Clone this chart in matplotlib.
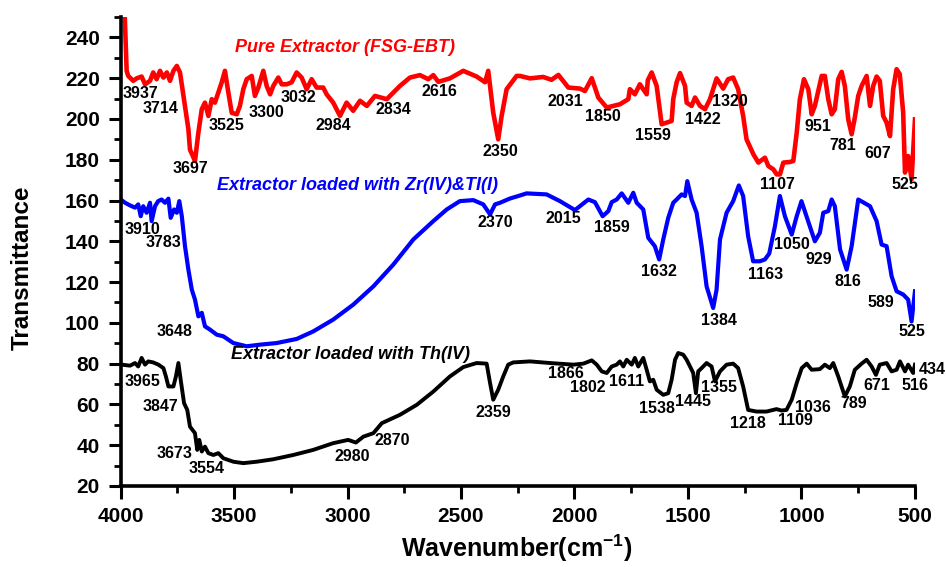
import numpy as np
import matplotlib.pyplot as plt
from matplotlib.ticker import MultipleLocator

plt.rcParams['font.family'] = ['Liberation Sans', 'DejaVu Sans']
plt.rcParams['font.weight'] = 'bold'
plt.rcParams['mathtext.fontset'] = 'custom'
plt.rcParams['mathtext.rm'] = 'Liberation Sans:bold'
plt.rcParams['mathtext.default'] = 'rm'

# espectro del extractor puro (rojo)
red_wn = [3985, 3973, 3966, 3944, 3929, 3907, 3892, 3870, 3856, 3841,
          3826, 3811, 3796, 3782, 3767, 3752, 3738, 3716, 3701, 3694,
          3672, 3657, 3642, 3628, 3613, 3598, 3584, 3569, 3554, 3540,
          3525, 3510, 3488, 3474, 3459, 3444, 3422, 3408, 3393, 3371,
          3356, 3341, 3327, 3305, 3290, 3268, 3246, 3224, 3202, 3180,
          3158, 3136, 3107, 3092, 3063, 3033, 3004, 2975, 2945, 2915,
          2879, 2827, 2769, 2725, 2681, 2644, 2622, 2600, 2549, 2490,
          2431, 2394, 2380, 2358, 2336, 2321, 2299, 2255, 2240, 2196,
          2138, 2101, 2071, 2027, 1976, 1954, 1924, 1895, 1858, 1800,
          1763, 1756, 1734, 1712, 1682, 1677, 1660, 1638, 1616, 1594,
          1572, 1565, 1550, 1535, 1513, 1506, 1484, 1469, 1447, 1425,
          1403, 1374, 1345, 1323, 1301, 1279, 1257, 1242, 1212, 1190,
          1161, 1146, 1124, 1109, 1095, 1080, 1051, 1036, 1021, 1007,
          989, 970, 955, 941, 911, 897, 882, 867, 853, 838,
          823, 809, 794, 779, 765, 750, 735, 713, 698, 684,
          669, 655, 640, 625, 610, 596, 581, 567, 552, 544,
          530, 515, 500]
red_t = [262, 223.6, 221.1, 218.7, 219.9, 220.8, 217, 218.7, 222.8, 219.5,
         223.6, 220.3, 222.8, 218.7, 223.6, 226, 222.8, 206.4, 195, 185,
         179.4, 193.3, 204.8, 208, 201.5, 209.7, 208, 213, 218, 223.6,
         213, 203, 202.3, 206.4, 214.6, 219.5, 221.1, 211.3, 215.4, 223.6,
         216.2, 212.1, 216.2, 220.3, 217, 217, 218, 222.8, 220.3, 214.6,
         219.5, 215.4, 215.4, 212.1, 208, 201.5, 208, 204, 208.9, 206.4,
         211.3, 209.7, 216.2, 220.3, 221.5, 219.5, 221.5, 218.2, 219.9, 223.6,
         220.8, 218, 223.6, 203.1, 190, 201.5, 214.6, 221.1, 221.1, 219.9,
         220.6, 219.2, 221.6, 215.4, 214.9, 213.7, 220, 210.5, 205.6, 207.2,
         209.7, 214.6, 212.1, 217, 212.1, 219, 222.8, 216.2, 197.4, 198.2,
         199, 209.7, 218, 222.5, 216.2, 208, 206.4, 210.5, 206.4, 204.8,
         209.7, 219.9, 214.9, 219.5, 220.3, 214.6, 201.5, 190, 182.7, 178.6,
         181, 176.9, 175.3, 172.8, 172.8, 178.6, 178.9, 179.4, 193.3, 209.7,
         219.5, 214.6, 202.3, 206.4, 221.1, 221.1, 209.7, 202.3, 204.8, 219.5,
         223.1, 216.2, 199.8, 192.5, 200.7, 211.3, 216.2, 221.1, 206.4, 216.2,
         220.8, 218.7, 201.5, 198.2, 191.6, 214.6, 224.4, 222, 203.1, 173.7,
         181.8, 170.4, 199.8]

# extractor cargado con Zr(IV) y Tl(I) (azul)
blue_wn = [3999, 3980, 3958, 3936, 3922, 3911, 3900, 3885, 3870, 3863,
           3848, 3834, 3819, 3804, 3789, 3779, 3764, 3752, 3741, 3730,
           3716, 3701, 3686, 3672, 3657, 3642, 3628, 3606, 3576, 3547,
           3503, 3444, 3386, 3312, 3224, 3151, 3063, 2975, 2886, 2798,
           2710, 2622, 2563, 2505, 2446, 2402, 2372, 2350, 2328, 2284,
           2248, 2211, 2123, 2064, 1998, 1939, 1910, 1876, 1851, 1836,
           1814, 1792, 1763, 1741, 1726, 1697, 1675, 1646, 1627, 1609,
           1587, 1565, 1550, 1528, 1513, 1503, 1484, 1462, 1440, 1418,
           1389, 1374, 1359, 1330, 1301, 1276, 1257, 1235, 1213, 1183,
           1161, 1142, 1117, 1095, 1073, 1043, 1021, 1000, 978, 941,
           919, 904, 882, 867, 853, 830, 801, 779, 750, 720,
           698, 669, 647, 625, 603, 581, 552, 530, 515, 500]
blue_t = [160.5, 158.9, 157.6, 156.5, 158.1, 152.3, 157.2, 154, 158.9, 149.9,
          157.2, 159.7, 160.5, 158.9, 160.9, 151.5, 155.6, 154, 159.7, 152.3,
          137.6, 126.1, 116.3, 111.4, 103.2, 104.9, 98.3, 96.7, 94.2, 93.4,
          90.1, 88.5, 89.3, 90.1, 92.1, 95.8, 101.6, 108.9, 117.9, 128.6,
          140.9, 149.9, 155.6, 159.7, 160.2, 158.1, 153.2, 158.1, 158.9, 161,
          162.2, 163.5, 163, 159.7, 155.3, 160.5, 159.2, 152.3, 154.8, 159.2,
          160.5, 163.5, 158.9, 163.8, 158.9, 155.6, 141.7, 137.6, 131.1, 140.9,
          151.5, 158.9, 160.5, 163, 162.2, 169.5, 160.5, 154, 137.6, 117.9,
          107.3, 116.3, 140.9, 154, 159.7, 167.4, 162.2, 142.5, 130.2, 130.2,
          131.1, 134, 147.4, 162.2, 152.3, 143.3, 152.3, 159.7, 152.3, 140,
          144.2, 154, 154.8, 160.5, 157.2, 136, 126.1, 137.6, 160.5, 158.6,
          157.2, 149.9, 138.4, 137.6, 122.9, 115.5, 113.9, 111.4, 100.7, 115.5]

# extractor cargado con Th(IV) (negro)
black_wn = [3995, 3958, 3936, 3922, 3907, 3892, 3878, 3856, 3833, 3811,
            3800, 3789, 3767, 3756, 3745, 3735, 3720, 3706, 3694, 3672,
            3662, 3653, 3642, 3628, 3613, 3591, 3569, 3547, 3503, 3459,
            3400, 3327, 3239, 3151, 3063, 2997, 2963, 2930, 2886, 2849,
            2769, 2695, 2622, 2549, 2490, 2431, 2387, 2372, 2358, 2336,
            2314, 2292, 2270, 2196, 2108, 2005, 1961, 1924, 1902, 1880,
            1858, 1836, 1814, 1800, 1785, 1770, 1748, 1734, 1719, 1697,
            1682, 1668, 1653, 1638, 1609, 1587, 1572, 1557, 1543, 1521,
            1506, 1491, 1477, 1465, 1455, 1440, 1418, 1396, 1381, 1359,
            1330, 1301, 1279, 1257, 1235, 1198, 1154, 1110, 1088, 1066,
            1043, 1021, 999, 977, 955, 919, 897, 875, 860, 838,
            809, 787, 765, 735, 713, 691, 672, 655, 625, 603,
            581, 566, 544, 530, 508, 500]
black_t = [79.5, 79, 80.3, 78.6, 82.8, 79.5, 81.1, 80.6, 79.5, 77.8,
           73.7, 68.8, 68.8, 73.7, 80.3, 72.1, 60.6, 57.3, 49.1, 45.9,
           37.7, 42.6, 36.9, 39.3, 36.1, 35.2, 36.1, 33.6, 31.9, 31.2,
           31.9, 33.1, 35.2, 37.7, 41, 42.6, 41.3, 44.2, 45.9, 50.8,
           54.9, 59.8, 66.3, 73.7, 78.3, 80.3, 80, 70.5, 62.3, 67.2,
           73.7, 79.5, 80.6, 81.1, 80.3, 79.5, 80, 81.6, 79.5, 76.2,
           75.4, 78.6, 79.5, 81.1, 78.6, 81.9, 79.5, 82.8, 78.6, 82.8,
           77, 71.3, 72.1, 67.2, 64.7, 65.5, 72.1, 81.9, 85.2, 84.4,
           81.9, 78.6, 75.4, 65.5, 76.2, 77.8, 80.3, 78.6, 71.3, 76.2,
           79.5, 80, 77.8, 68.8, 57.3, 56.5, 56.5, 57.7, 57, 57.3,
           62.3, 70.5, 77.8, 80, 77, 77.3, 79.5, 77.8, 80.3, 73.7,
           63.9, 68.8, 77, 80, 81.9, 78.6, 74.5, 79.5, 80.3, 76.2,
           77, 81.1, 76.2, 79.5, 75.4, 79.5]

# etiquetas de picos: (texto, posicion x, posicion y)
red_peaks = [("3937", 3910, 212.6), ("3714", 3826, 205.2), ("3697", 3694, 175.8),
             ("3525", 3535, 196.9), ("3300", 3359, 203.4), ("3032", 3218, 210.3),
             ("2984", 3064, 196.9), ("2834", 2800, 204.8), ("2616", 2593, 213.6),
             ("2350", 2328, 184.1), ("2031", 2042, 208.5), ("1850", 1875, 201.3),
             ("1559", 1654, 192), ("1422", 1434, 199.9), ("1320", 1315, 208.5),
             ("1107", 1104, 167.9), ("951", 928, 196.4), ("781", 818, 187.1),
             ("607", 663, 183.1), ("525", 544, 167.9)]
blue_peaks = [("3910", 3905, 145.8), ("3783", 3813, 139.4), ("3648", 3760, 95.7),
              ("2370", 2350, 149.2), ("2015", 2051, 151.2), ("1859", 1835, 146.8),
              ("1632", 1628, 125.2), ("1384", 1364, 101.1), ("1163", 1157, 123.7),
              ("1050", 1042, 138.4), ("929", 923, 131.1), ("816", 795, 120.2),
              ("589", 649, 109.9), ("525", 514, 95.7)]
black_peaks = [("3965", 3901, 71.1), ("3847", 3826, 58.8), ("3673", 3760, 35.7),
               ("3554", 3619, 28.8), ("2980", 2980, 34.3), ("2870", 2804, 42.1),
               ("2359", 2359, 55.9), ("1866", 2038, 75), ("1802", 1941, 68.2),
               ("1611", 1769, 71.1), ("1538", 1637, 57.8), ("1445", 1478, 61.3),
               ("1355", 1364, 68.2), ("1218", 1236, 50.5), ("1109", 1025, 51.9),
               ("1036", 951, 58.3), ("789", 770, 60.3), ("671", 667, 69.1),
               ("516", 500, 69.1), ("434", 425, 77)]

# nombres de las curvas
titles = [("Pure Extractor (FSG-EBT)", 3011, 235.2, 'red'),
          ("Extractor loaded with Zr(IV)&TI(I)", 2954, 167.4, 'blue'),
          ("Extractor loaded with Th(IV)", 2989, 84.4, 'black')]

fig = plt.figure(figsize=(9.46, 5.67), dpi=100)
ax = fig.add_axes([0.1274, 0.1429, 0.8398, 0.8271])

ax.plot(red_wn, red_t, color='red', lw=3.3)
ax.plot(blue_wn, blue_t, color='blue', lw=3.0)
ax.plot(black_wn, black_t, color='black', lw=2.8)

for peaks in (red_peaks, blue_peaks, black_peaks):
    for txt, x, y in peaks:
        ax.text(x, y, txt, fontsize=11.5, ha='center', va='center', color='black')

for txt, x, y, c in titles:
    ax.text(x, y, txt, fontsize=13, style='italic', ha='center', va='center', color=c)

ax.set_xlim(4000, 500)
ax.set_ylim(20, 250)
ax.set_xticks(np.arange(4000, 499, -500))
ax.set_yticks(np.arange(20, 241, 20))
ax.xaxis.set_minor_locator(MultipleLocator(250))
ax.yaxis.set_minor_locator(MultipleLocator(10))

ax.spines['top'].set_visible(False)
ax.spines['right'].set_visible(False)
ax.spines['left'].set_linewidth(2.6)
ax.spines['bottom'].set_linewidth(2.6)
ax.tick_params(which='major', direction='out', length=9, width=2.2, labelsize=15, pad=6)
ax.tick_params(which='minor', direction='out', length=5, width=2)

fig.text(0.024, 0.527, 'Transmittance', rotation=90, fontsize=17.5, ha='center', va='center')
fig.text(0.5465, 0.033, 'Wavenumber(cm$^{-1}$)', fontsize=18, ha='center', va='center')

plt.savefig('out.png', dpi=100)
